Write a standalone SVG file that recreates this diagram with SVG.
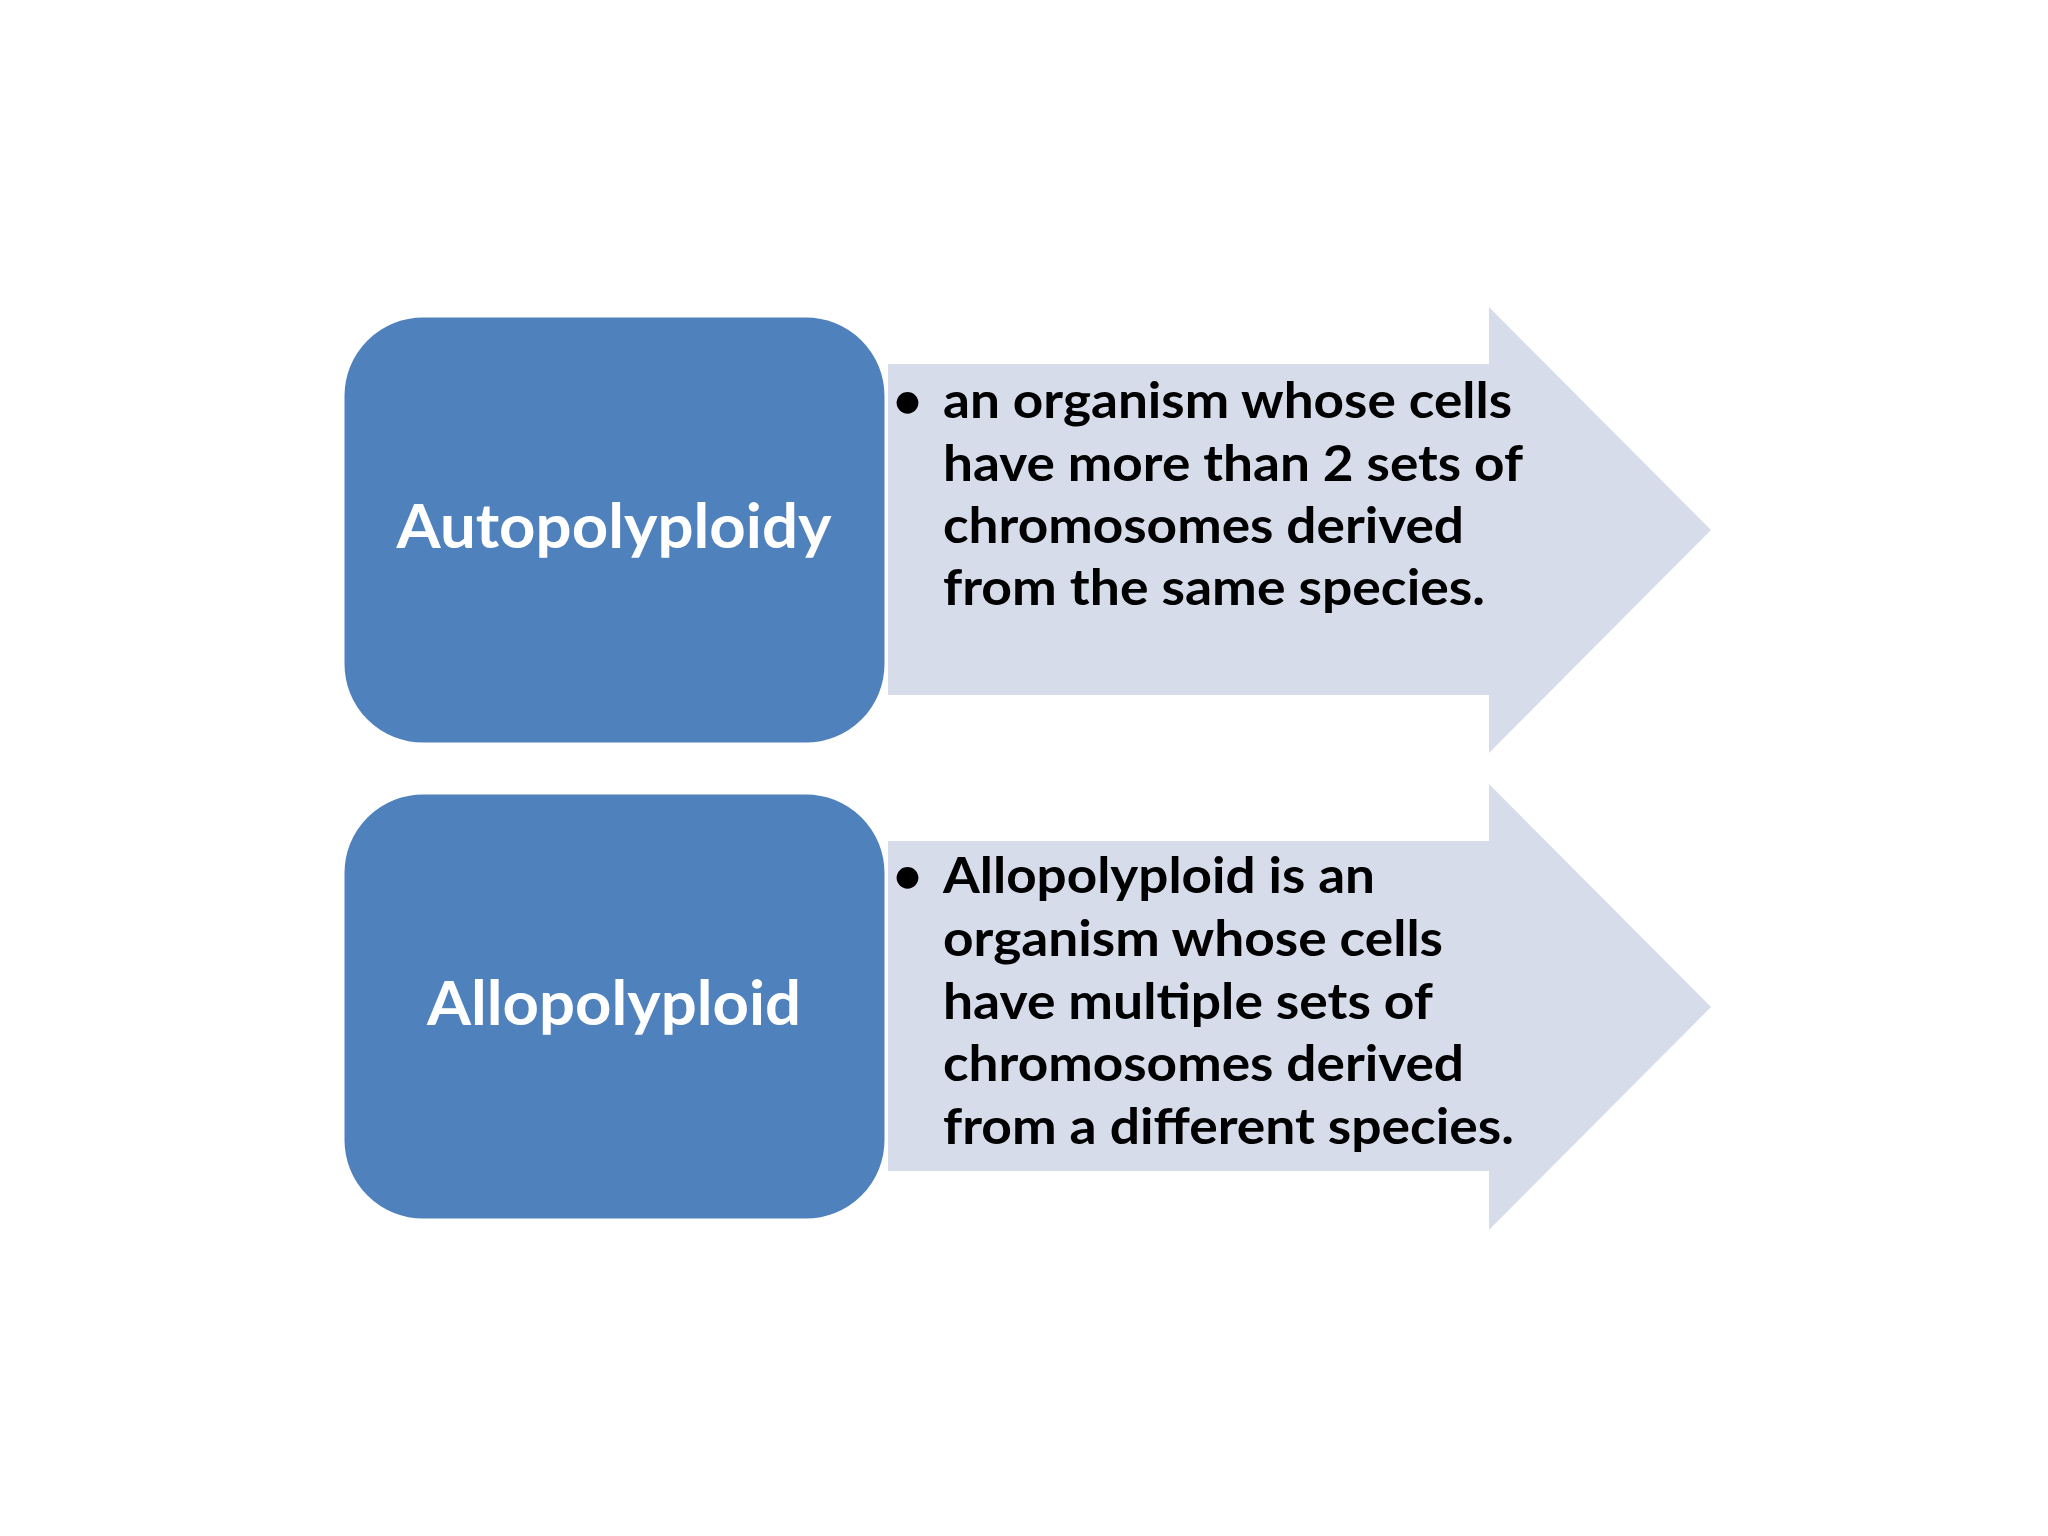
<svg xmlns="http://www.w3.org/2000/svg" width="2048" height="1536" viewBox="0 0 2048 1536">
<style>
.box{fill:#4F81BD;stroke:#ffffff;stroke-width:3}
.arr{fill:#D7DCEA}
.title{font-family:Lato,"Open Sans",sans-serif;font-weight:bold;font-size:62px;fill:#ffffff;text-anchor:middle}
.body{font-family:Lato,"Open Sans",sans-serif;font-weight:bold;font-size:50px;fill:#000000}
</style>
<rect width="2048" height="1536" fill="#ffffff"/>
<g id="arrow1"><polygon class="arr" points="888,364 1489,364 1489,307 1711,530 1489,753 1489,695 888,695"/>
<text class="body" x="893" y="418">•</text>
<text class="body" x="943" y="418" textLength="569" lengthAdjust="spacingAndGlyphs">an organism whose cells</text>
<text class="body" x="943" y="481" textLength="580" lengthAdjust="spacingAndGlyphs">have more than 2 sets of</text>
<text class="body" x="943" y="543" textLength="521" lengthAdjust="spacingAndGlyphs">chromosomes derived</text>
<text class="body" x="943" y="605" textLength="542" lengthAdjust="spacingAndGlyphs">from the same species.</text>
</g>
<g id="arrow2"><polygon class="arr" points="888,841 1489,841 1489,784 1711,1007 1489,1230 1489,1171 888,1171"/>
<text class="body" x="893" y="893">•</text>
<text class="body" x="943" y="893" textLength="432" lengthAdjust="spacingAndGlyphs">Allopolyploid is an</text>
<text class="body" x="943" y="956" textLength="500" lengthAdjust="spacingAndGlyphs">organism whose cells</text>
<text class="body" x="943" y="1019" textLength="490" lengthAdjust="spacingAndGlyphs">have multiple sets of</text>
<text class="body" x="943" y="1081" textLength="521" lengthAdjust="spacingAndGlyphs">chromosomes derived</text>
<text class="body" x="943" y="1144" textLength="571" lengthAdjust="spacingAndGlyphs">from a different species.</text>
</g>
<g id="box1"><rect class="box" x="343" y="316" width="543" height="428" rx="80"/>
<text class="title" x="614" y="548" textLength="435" lengthAdjust="spacingAndGlyphs">Autopolyploidy</text></g>
<g id="box2"><rect class="box" x="343" y="793" width="543" height="427" rx="80"/>
<text class="title" x="614" y="1025" textLength="374" lengthAdjust="spacingAndGlyphs">Allopolyploid</text></g>
<g id="connectors"></g>
</svg>
